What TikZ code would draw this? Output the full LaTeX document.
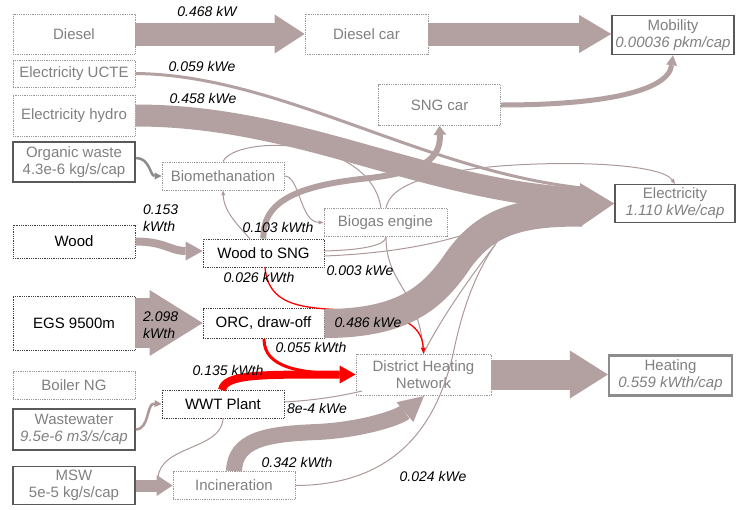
\documentclass[tikz,border=0pt]{standalone}
\usepackage{fontspec}
\setmainfont{Liberation Sans}
\usetikzlibrary{arrows.meta}
\definecolor{bandc}{RGB}{179,161,161}
\definecolor{thinc}{RGB}{172,152,152}
\definecolor{gtext}{RGB}{128,128,128}
\definecolor{redf}{RGB}{255,0,0}
\begin{document}
\begin{tikzpicture}[x=1pt,y=-1pt,
  boxfont/.style={font=\fontsize{15}{17}\selectfont},
  gbox/.style={draw=black!40, densely dotted, line width=0.8pt, text=gtext, align=center, inner sep=1pt, boxfont},
  kbox/.style={draw=black!75, densely dotted, line width=0.8pt, text=black, align=center, inner sep=1pt, boxfont},
  sbox/.style={draw=black!65, line width=1.6pt, text=gtext, align=center, inner sep=1pt, boxfont},
  lbl/.style={font=\fontsize{14}{16}\selectfont\itshape, text=black, inner sep=0pt, align=left},
  thin/.style={draw=thinc, line width=1pt},
  tip/.style={-{Triangle[length=5pt,width=4pt,line width=0pt]}},
]
\useasboundingbox (0,0) rectangle (736,509);

% ---------- nodes ----------
\node[gbox, minimum width=122pt, minimum height=40pt] (diesel) at (74,34) {Diesel};
\node[gbox, minimum width=122pt, minimum height=27pt] (ucte) at (74,73.5) {Electricity UCTE};
\node[gbox, minimum width=122pt, minimum height=41pt] (hydro) at (74,115.5) {Electricity hydro};
\node[sbox, minimum width=122pt, minimum height=40pt] (orgw) at (74,162) {Organic waste\\4.3e-6 kg/s/cap};
\node[gbox, minimum width=122pt, minimum height=28pt] (biometh) at (223,176) {Biomethanation};
\node[kbox, minimum width=122pt, minimum height=33pt] (wood) at (74,241.5) {Wood};
\node[kbox, minimum width=121pt, minimum height=28pt] (wsng) at (263.5,253) {Wood to SNG};
\node[gbox, minimum width=123pt, minimum height=28pt] (biogas) at (385.5,222.5) {Biogas engine};
\node[gbox, minimum width=122pt, minimum height=41pt] (sngcar) at (439.5,105) {SNG car};
\node[gbox, minimum width=123pt, minimum height=40pt] (dcar) at (366.5,34) {Diesel car};
\node[sbox, minimum width=122pt, minimum height=39pt] (mob) at (673,35) {Mobility\\\itshape 0.00036 pkm/cap};
\node[sbox, minimum width=120pt, minimum height=38pt] (elec) at (675,203.5) {Electricity\\\itshape 1.110 kWe/cap};
\node[kbox, minimum width=122pt, minimum height=54pt] (egs) at (74,323) {EGS 9500m};
\node[kbox, minimum width=121pt, minimum height=30pt] (orc) at (263.5,323.5) {ORC, draw-off};
\node[gbox, minimum width=135pt, minimum height=41pt] (dhn) at (423.5,374.5) {District Heating\\Network};
\node[sbox, draw=black!45, line width=2.2pt, minimum width=123pt, minimum height=40pt] (heat) at (670.5,375.5) {Heating\\\itshape 0.559 kWth/cap};
\node[gbox, minimum width=122pt, minimum height=28pt] (boiler) at (74,385.5) {Boiler NG};
\node[kbox, minimum width=122pt, minimum height=28pt] (wwt) at (223,404) {WWT Plant};
\node[sbox, minimum width=122pt, minimum height=41pt] (wastew) at (74,429.5) {Wastewater\\\itshape 9.5e-6 m3/s/cap};
\node[sbox, minimum width=122pt, minimum height=38pt] (msw) at (74,485.5) {MSW\\5e-5 kg/s/cap};
\node[gbox, minimum width=122pt, minimum height=28pt] (incin) at (234,485.5) {Incineration};

% ---------- thin connectors (behind bands) ----------
\draw[thin] (biometh.north) .. controls (235,135) and (370,135) .. (biogas.north -| 381,0);
\draw[thin, tip] (biometh.east) .. controls (300,176) and (300,222) .. (biogas.west);
\draw[thin, tip] (250,239) .. controls (238,225) and (224,212) .. (biometh.south);
\draw[thin] (wsng.east |- 0,251) .. controls (360,250) and (385,246) .. (386,237);
\draw[thin] (wsng.east |- 0,256) .. controls (400,253) and (470,240) .. (515,212);
\draw[thin] (386,237) .. controls (386,285) and (420,290) .. (dhn.north);
\draw[thin, tip] (386,208) .. controls (390,185) and (430,172) .. (500,166) .. controls (580,160) and (662,165) .. (675,184);
\draw[thin] (incin.east) .. controls (400,485) and (440,420) .. (455,345) .. controls (465,300) and (480,260) .. (510,225);
\draw[thin] (dhn.north) .. controls (435,330) and (460,290) .. (495,245);
\draw[thin] (wwt.east |- 0,402) .. controls (320,400) and (345,395) .. (362,391);
\draw[thin] (wwt.south) .. controls (222,450) and (160,445) .. (158,478);
\draw[draw=thinc, line width=2.5pt, -{Triangle[length=7pt,width=7pt,line width=0pt]}] (wastew.east) .. controls (150,429) and (146,403) .. (wwt.west);
\draw[draw=black!45, line width=2.5pt, -{Triangle[length=7pt,width=7pt,line width=0pt]}] (136,158) .. controls (150,158) and (150,176) .. (biometh.west);

% red thin behind ORC band
\draw[draw=redf, line width=1.3pt, -{Triangle[length=6pt,width=5pt,line width=0pt]}] (265,267) .. controls (268,305) and (300,308) .. (345,310) .. controls (395,312) and (422,322) .. (dhn.north);

% ---------- bands ----------
\draw[draw=bandc, line width=23pt, -{Triangle[length=30pt,width=39pt,line width=0pt]}] (diesel.east) -- (diesel.east -| dcar.west);
\draw[draw=bandc, line width=23pt, -{Triangle[length=32pt,width=38pt,line width=0pt]}] (dcar.east) -- (dcar.east -| mob.west);
\draw[draw=bandc, line width=3pt] (ucte.east) .. controls (280,75) and (420,170) .. (582,188);
\draw[draw=bandc, line width=22pt] (hydro.east) .. controls (300,115.5) and (420,190) .. (582,199);
\draw[draw=bandc, line width=29pt] (orc.east) .. controls (400,323.5) and (430,300) .. (455,265) .. controls (485,220) and (520,212) .. (582,212);
\fill[bandc] (580,183) -- (elec.west) -- (580,227) -- cycle;
\draw[draw=bandc, line width=6pt, -{Triangle[length=9pt,width=13pt,line width=0pt]}] (wsng.north) .. controls (262,200) and (300,185) .. (370,178) .. controls (420,172) and (441,160) .. (sngcar.south);
\draw[draw=bandc, line width=5pt, -{Triangle[length=10pt,width=11pt,line width=0pt]}] (sngcar.east) .. controls (600,105) and (668,92) .. (mob.south);
\draw[draw=bandc, line width=8pt, -{Triangle[length=17pt,width=19pt,line width=0pt]}] (wood.east) .. controls (165,241.5) and (170,251) .. (wsng.west |- 0,251);
\draw[draw=bandc, line width=50pt, -{Triangle[length=53pt,width=66pt,line width=0pt]}] (egs.east) -- (egs.east -| orc.west);
\draw[draw=bandc, line width=30pt, -{Triangle[length=38pt,width=48pt,line width=0pt]}] (dhn.east) -- (dhn.east -| heat.west);
\draw[draw=bandc, line width=12pt, -{Triangle[length=16pt,width=21pt,line width=0pt]}] (msw.east) -- (msw.east -| incin.west);
\draw[draw=bandc, line width=16pt, -{Triangle[length=25pt,width=26pt,line width=0pt]}] (incin.north) .. controls (235,440) and (265,434) .. (317,432) .. controls (360,430) and (398,418) .. (424,396);

% ---------- red bands ----------
\draw[draw=redf, line width=3pt] (264,339) .. controls (264,368) and (300,373) .. (345,374);
\draw[draw=redf, line width=8pt, -{Triangle[length=16pt,width=18pt,line width=0pt]}] (222,390) .. controls (225,374) and (260,374.5) .. (dhn.west);

% ---------- labels ----------
\node[lbl] (l1) at (207,11) {0.468 kW};
\node[lbl] (l2) at (202,66) {0.059 kWe};
\node[lbl] (l3) at (203,98) {0.458 kWe};
\node[lbl] (l4) at (278,227) {0.103 kWth};
\node[lbl, anchor=west] (l5a) at (143,210) {0.153};
\node[lbl, anchor=west] (l5b) at (143,226) {kWth};
\node[lbl, anchor=west] (l6a) at (143,317) {2.098};
\node[lbl, anchor=west] (l6b) at (143,333) {kWth};
\node[lbl] (l7) at (259,277) {0.026 kWth};
\node[lbl] (l8) at (360,270) {0.003 kWe};
\node[lbl] (l9) at (368,322) {0.486 kWe};
\node[lbl] (l10) at (311,347) {0.055 kWth};
\node[lbl] (l11) at (228,370) {0.135 kWth};
\node[lbl] (l12) at (317,408) {8e-4 kWe};
\node[lbl] (l13) at (297,462) {0.342 kWth};
\node[lbl] (l14) at (433,476) {0.024 kWe};
\end{tikzpicture}
\end{document}
